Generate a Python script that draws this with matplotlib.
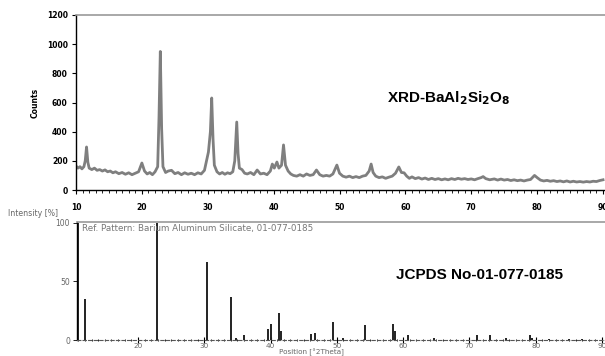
import matplotlib
matplotlib.use("Agg")
import matplotlib.pyplot as plt
from matplotlib.ticker import MultipleLocator

# ---- measured XRD pattern (2theta, counts) ----
xrd_theta = [10.0, 10.3, 10.6, 10.9, 11.2, 11.4, 11.6, 11.8, 12.0, 12.4, 12.8, 13.2, 13.6, 14.0,
             14.4, 14.8, 15.2, 15.6, 16.0, 16.5, 17.0, 17.5, 18.0, 18.5, 19.0, 19.5, 20.0, 20.4,
             20.8, 21.2, 21.6, 22.0, 22.4, 22.6, 22.8, 23.0, 23.2, 23.6, 24.0, 24.5, 25.0, 25.5,
             26.0, 26.5, 27.0, 27.5, 28.0, 28.5, 29.0, 29.5, 29.9, 30.1, 30.4, 30.6, 30.8, 31.0,
             31.4, 31.8, 32.2, 32.6, 33.0, 33.4, 33.8, 34.1, 34.4, 34.6, 34.8, 35.2, 35.6, 36.0,
             36.5, 37.0, 37.5, 38.0, 38.5, 39.0, 39.5, 39.8, 40.1, 40.5, 40.8, 41.2, 41.5, 41.8,
             42.2, 42.6, 43.0, 43.5, 44.0, 44.5, 45.0, 45.5, 46.0, 46.5, 47.0, 47.5, 48.0, 48.5,
             49.0, 49.6, 50.0, 50.5, 51.0, 51.5, 52.0, 52.5, 53.0, 53.5, 54.0, 54.5, 54.8, 55.1,
             55.5, 56.0, 56.5, 57.0, 57.5, 58.0, 58.5, 59.0, 59.4, 59.8, 60.2, 60.6, 61.0, 61.5,
             62.0, 62.5, 63.0, 63.5, 64.0, 64.5, 65.0, 65.5, 66.0, 66.5, 67.0, 67.5, 68.0, 68.5,
             69.0, 69.5, 70.0, 70.5, 71.0, 71.5, 71.8, 72.2, 72.8, 73.5, 74.0, 74.5, 75.0, 75.5,
             76.0, 76.5, 77.0, 77.5, 78.0, 78.5, 79.0, 79.6, 80.0, 80.5, 81.0, 81.5, 82.0, 82.5,
             83.0, 83.5, 84.0, 84.5, 85.0, 85.5, 86.0, 86.5, 87.0, 87.5, 88.0, 88.5, 89.0, 89.5,
             90.0]
xrd_counts = [165, 150, 160, 145, 160, 200, 295, 190, 150, 140, 150, 135, 140, 130,
              138, 125, 130, 118, 125, 112, 120, 108, 118, 105, 115, 125, 185, 130,
              110, 120, 105, 125, 160, 500, 950, 420, 160, 120, 130, 135, 112, 120,
              105, 118, 108, 115, 105, 118, 110, 135, 220, 260, 400, 631, 350, 170,
              125, 110, 120, 108, 118, 112, 125, 200, 466, 250, 150, 140, 115, 110,
              120, 105, 137, 110, 115, 105, 130, 178, 150, 192, 150, 170, 309, 170,
              130, 110, 100, 95, 105, 95, 110, 100, 105, 137, 105, 95, 100, 95,
              110, 171, 115, 95, 88, 95, 85, 92, 85, 95, 100, 130, 178, 120,
              95, 85, 90, 80, 88, 95, 115, 158, 120, 118, 95, 80, 90, 78,
              85, 75, 82, 72, 80, 72, 78, 70, 76, 70, 78, 72, 80, 74,
              78, 72, 76, 70, 78, 85, 92, 78, 70, 76, 68, 75, 68, 72,
              65, 70, 64, 68, 62, 68, 72, 100, 85, 68, 62, 66, 60, 64,
              58, 62, 56, 62, 55, 60, 55, 58, 54, 58, 55, 60, 58, 65,
              70]

# ---- reference pattern JCPDS 01-077-0185 (2theta, relative intensity %) ----
ref_theta = [10.9, 12.0, 22.8, 30.4, 34.0, 34.8, 36.0, 39.6, 40.0, 41.3, 41.5, 46.1, 46.7,
             49.4, 51.0, 54.3, 58.4, 58.8, 60.7, 64.6, 71.2, 73.1, 75.5, 79.1, 79.4, 82.0,
             85.0, 87.0]
ref_int = [100, 35, 100, 67, 37, 2, 4, 9, 14, 23, 8, 5, 6,
           15, 2, 13, 14, 8, 4, 2, 4, 4, 2, 4, 2, 1,
           1, 1]

top_xticks = [10, 20, 30, 40, 50, 60, 70, 80, 90]
top_yticks = [0, 200, 400, 600, 800, 1000, 1200]
bot_xticks = [20, 30, 40, 50, 60, 70, 80, 90]
bot_yticks = [0, 50, 100]

W, H = 605, 356
fig = plt.figure(figsize=(W / 100, H / 100), dpi=100)

def rect(x0, y0, x1, y1):
    return [x0 / W, 1 - y1 / H, (x1 - x0) / W, (y1 - y0) / H]

# ---------------- top panel ----------------
ax1 = fig.add_axes(rect(76, 15, 605, 190))
ax1.plot(xrd_theta, xrd_counts, color="#7f7f7f", lw=2.0, solid_joinstyle="round")
ax1.set_xlim(10, 90.3)
ax1.set_ylim(0, 1200)
ax1.set_xticks(top_xticks)
ax1.set_yticks(top_yticks)
ax1.xaxis.set_minor_locator(MultipleLocator(1))
ax1.tick_params(axis="x", which="major", direction="out", length=3, width=0.8,
                labelsize=5.5, pad=6)
ax1.tick_params(axis="x", which="minor", direction="out", length=2, width=0.6)
ax1.tick_params(axis="y", direction="out", length=3, width=0.8, labelsize=5.5, pad=3)
for lab in ax1.get_xticklabels() + ax1.get_yticklabels():
    lab.set_fontweight("bold")
ax1.spines["right"].set_visible(False)
ax1.spines["top"].set_color("#999999")
ax1.spines["top"].set_linewidth(1.2)
ax1.spines["left"].set_linewidth(1.0)
ax1.spines["bottom"].set_linewidth(1.0)
fig.text(35 / W, 1 - 103 / H, "Counts", rotation=90, fontsize=5.5, fontweight="bold",
         ha="center", va="center")
fig.text(449 / W, 1 - 98 / H, r"XRD-BaAl$_\mathbf{2}$Si$_\mathbf{2}$O$_\mathbf{8}$",
         fontsize=11, fontweight="bold", family="Liberation Sans", ha="center", va="center")

# ---------------- bottom panel ----------------
ax2 = fig.add_axes(rect(77, 222, 605, 340))
ax2.vlines(ref_theta, 0, ref_int, color="#222222", lw=1.4)
ax2.set_xlim(10.8, 90.45)
ax2.set_ylim(0, 100.8)
ax2.set_xticks(bot_xticks)
ax2.set_yticks(bot_yticks)
ax2.xaxis.set_minor_locator(MultipleLocator(1))
ax2.tick_params(axis="x", which="major", direction="inout", length=4, width=0.8,
                labelsize=5.2, labelcolor="#666666", pad=0)
ax2.tick_params(axis="x", which="minor", direction="inout", length=2, width=0.6)
ax2.tick_params(axis="y", direction="out", length=3, width=0.6, labelsize=5.5,
                labelcolor="#666666", pad=2)
ax2.spines["right"].set_visible(False)
ax2.spines["top"].set_color("#999999")
ax2.spines["top"].set_linewidth(1.2)
ax2.spines["bottom"].set_linestyle((0, (3, 2)))
ax2.spines["bottom"].set_color("#555555")
ax2.spines["bottom"].set_linewidth(0.8)
ax2.spines["left"].set_linewidth(1.0)
fig.text(8 / W, 1 - 214 / H, "Intensity [%]", fontsize=5.6, color="#666666",
         ha="left", va="center")
fig.text(82 / W, 1 - 229 / H, "Ref. Pattern: Barium Aluminum Silicate, 01-077-0185",
         fontsize=6.3, color="#777777", ha="left", va="center")
fig.text(311 / W, 1 - 352 / H, "Position [°2Theta]", fontsize=5.2, color="#666666",
         ha="center", va="center")
fig.text(480 / W, 1 - 275 / H, "JCPDS No-01-077-0185", fontsize=11, fontweight="bold",
         family="Liberation Sans", ha="center", va="center")

fig.savefig("out.png", dpi=100)
